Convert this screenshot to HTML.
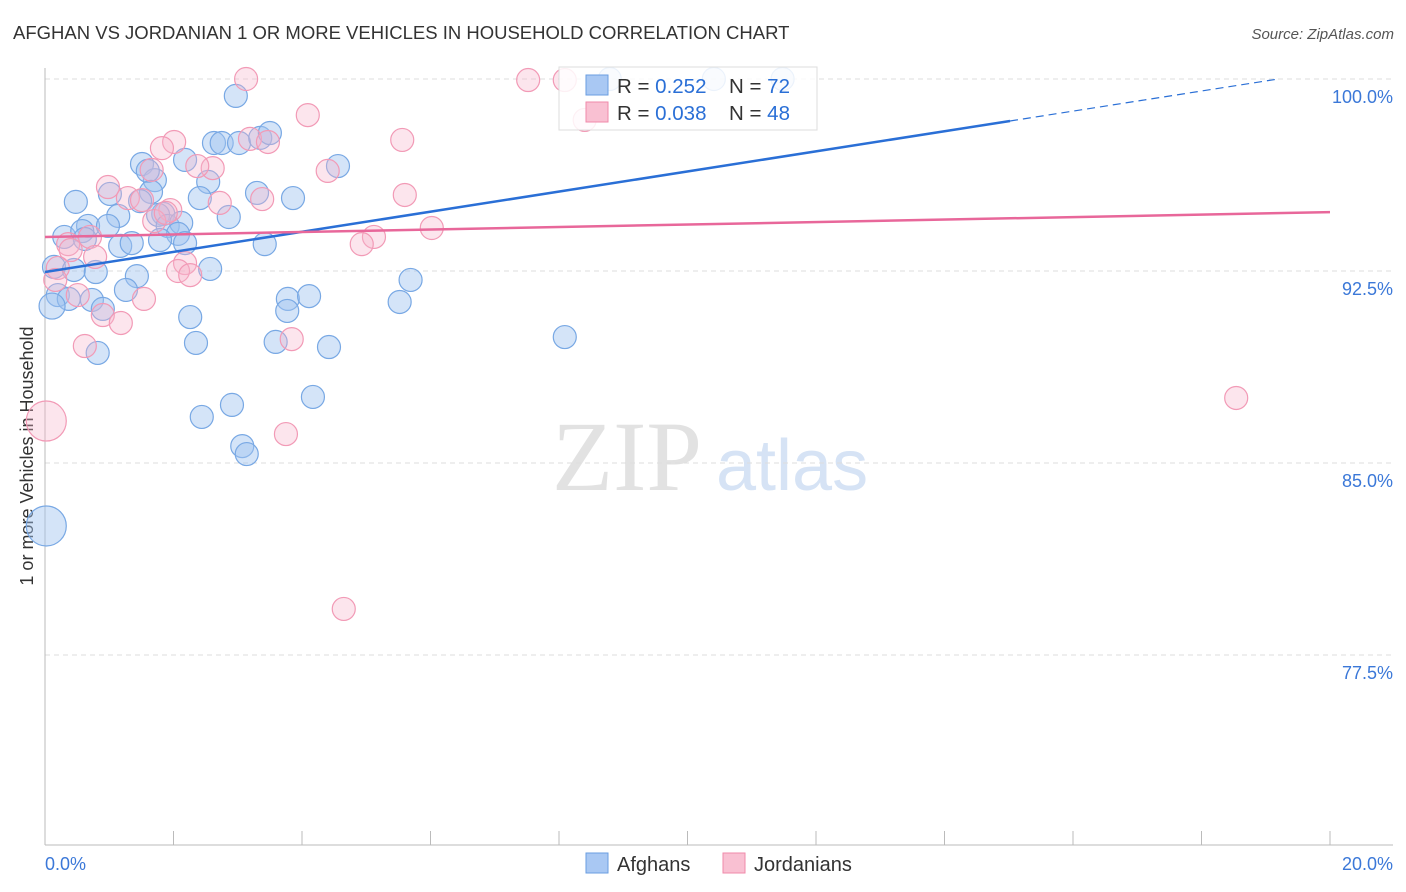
<!DOCTYPE html>
<html><head><meta charset="utf-8"><style>
body{margin:0;background:#fff;width:1406px;height:892px;overflow:hidden;font-family:"Liberation Sans",sans-serif}
svg{display:block}
</style></head><body>
<svg id="chart" width="1406" height="892">
<text x="13" y="39" font-size="18.5" fill="#333">AFGHAN VS JORDANIAN 1 OR MORE VEHICLES IN HOUSEHOLD CORRELATION CHART</text>
<text x="1394" y="39" font-size="15" fill="#555" font-style="italic" text-anchor="end">Source: ZipAtlas.com</text>
<text x="33" y="456" font-size="18" fill="#333" text-anchor="middle" transform="rotate(-90 33 456)">1 or more Vehicles in Household</text>
<g>
<text x="552" y="490" font-size="100" fill="#e2e2e2" font-family="Liberation Serif,serif">ZIP</text>
<text x="716" y="490" font-size="72" fill="#d6e3f5">atlas</text>
</g>
<g id="grid"></g><g id="axes"></g><g id="pts"></g><g id="lines"></g>
<g>
<rect x="559" y="67" width="258" height="63" fill="#fff" fill-opacity="0.85" stroke="#ddd"/>
<rect x="586" y="75" width="22" height="20" fill="#a9c8f3" stroke="#6a9ee0"/>
<rect x="586" y="102" width="22" height="20" fill="#f9c0d2" stroke="#f08aaa"/>
<text x="617" y="93" font-size="20.5" fill="#333">R = <tspan fill="#2a6fd6">0.252</tspan></text>
<text x="729" y="93" font-size="20.5" fill="#333">N = <tspan fill="#2a6fd6">72</tspan></text>
<text x="617" y="120" font-size="20.5" fill="#333">R = <tspan fill="#2a6fd6">0.038</tspan></text>
<text x="729" y="120" font-size="20.5" fill="#333">N = <tspan fill="#2a6fd6">48</tspan></text>
</g>
<g>
<rect x="586" y="853" width="22" height="20" fill="#a9c8f3" stroke="#6a9ee0"/>
<text x="617" y="871" font-size="20" fill="#333">Afghans</text>
<rect x="723" y="853" width="22" height="20" fill="#f9c0d2" stroke="#f08aaa"/>
<text x="754" y="871" font-size="20" fill="#333">Jordanians</text>
</g>
</svg>
<script>
const yTicks=[100,92.5,85,77.5];
const yTickLabels=["100.0%","92.5%","85.0%","77.5%"];
const xTickVals=[0,2,4,6,8,10,12,14,16,18,20];
const afghanX=[2.97,2.63,2.75,3.02,3.35,3.50,2.18,1.51,1.71,1.60,1.65,2.54,1.01,0.48,1.48,1.84,1.14,1.76,2.86,2.41,3.30,3.86,4.56,0.67,0.98,0.30,0.58,0.62,1.91,2.12,2.07,2.18,1.79,1.17,1.35,3.42,0.14,0.45,0.79,2.57,1.43,1.26,0.20,0.37,0.73,0.90,0.11,2.26,3.78,4.11,3.77,5.69,5.52,2.35,3.59,4.42,0.82,8.09,4.17,2.91,2.44,3.07,3.14,0.02,8.79,10.41,11.48];
const afghanY=[99.34,97.50,97.50,97.50,97.70,97.89,96.84,96.68,96.05,96.41,95.59,95.98,95.51,95.20,95.23,94.73,94.65,94.69,94.61,95.35,95.55,95.35,96.60,94.26,94.26,93.83,94.06,93.75,94.26,94.38,93.95,93.59,93.71,93.48,93.59,93.55,92.66,92.54,92.46,92.58,92.30,91.76,91.56,91.41,91.37,91.02,91.13,90.70,91.41,91.52,90.94,92.15,91.29,89.69,89.73,89.53,89.30,89.92,87.58,87.27,86.80,85.66,85.35,82.54,100.0,100.0,100.0];
const jordanX=[3.13,7.52,8.09,8.40,4.09,5.56,2.01,1.82,3.19,3.47,1.66,2.61,2.37,4.40,0.98,1.29,1.51,2.72,3.38,5.60,1.95,1.70,1.88,6.02,5.12,4.93,0.70,0.36,0.40,0.20,0.78,2.18,2.07,2.26,0.16,0.51,1.54,0.90,1.18,3.84,0.62,3.75,18.54,4.65,0.02];
const jordanY=[100.0,99.96,99.96,98.40,98.59,97.62,97.54,97.30,97.66,97.54,96.45,96.52,96.60,96.41,95.78,95.35,95.27,95.16,95.31,95.47,94.88,94.45,94.77,94.18,93.83,93.55,93.83,93.55,93.32,92.62,93.05,92.81,92.50,92.34,92.15,91.56,91.41,90.78,90.47,89.84,89.57,86.13,87.54,79.30,86.64];
const afghanTrend=[92.46,98.36];  // y at x=0 and x=15.02
const jordanTrend=[93.83,94.80];  // y at x=0 and x=20
const NS="http://www.w3.org/2000/svg";
const X=v=>45+v/20*1285;
const Y=v=>79+(100-v)/7.5*192;
function mk(tag,attrs,parent){const e=document.createElementNS(NS,tag);for(const k in attrs)e.setAttribute(k,attrs[k]);parent.appendChild(e);return e;}
const grid=document.getElementById('grid'),axes=document.getElementById('axes'),pts=document.getElementById('pts'),lines=document.getElementById('lines');
yTicks.forEach((t,i)=>{
 const l=mk('line',{x1:45,x2:1393,y1:Y(t),y2:Y(t),stroke:'#ddd','stroke-dasharray':'5,4'},grid);
 
 
 const tx=mk('text',{x:1393,y:Y(t)+24,'font-size':18,fill:'#3b78d8','text-anchor':'end'},axes);
 tx.textContent=yTickLabels[i];
 
 
});
const ya=mk('line',{x1:45,x2:45,y1:68,y2:845,stroke:'#bbb'},axes);


const xa=mk('line',{x1:45,x2:1393,y1:845,y2:845,stroke:'#bbb'},axes);


xTickVals.forEach(v=>{
 const t=mk('line',{x1:X(v),x2:X(v),y1:831,y2:845,stroke:'#bbb'},axes);
 
 
});
[[0,'0.0%','start',45],[20,'20.0%','end',1393]].forEach(a=>{
 const t=mk('text',{x:a[3],y:870,'font-size':18,fill:'#3b78d8','text-anchor':a[2]},axes);
 t.textContent=a[1];
 
 
});
function draw(xs,ys,fill,stroke,name){
 xs.forEach((x,i)=>{
  let r=11.5; if(x<0.05) r=20; else if(x<0.12) r=13;
  const c=mk('circle',{cx:X(x),cy:Y(ys[i]),r:r,fill:fill,stroke:stroke,'stroke-width':1.2},pts);
  
  
 });
}
draw(afghanX,afghanY,'rgba(160,196,240,0.45)','#78a8e4','afghan-point');
draw(jordanX,jordanY,'rgba(246,180,202,0.35)','#f29ab6','jordanian-point');
const slopeA=(afghanTrend[1]-afghanTrend[0])/15.02;
const b1=mk('line',{x1:X(0),y1:Y(afghanTrend[0]),x2:X(15.02),y2:Y(afghanTrend[1]),stroke:'#2a6fd6','stroke-width':2.5},lines);


const b2=mk('line',{x1:X(15.02),y1:Y(afghanTrend[1]),x2:X(19.2),y2:Y(afghanTrend[0]+slopeA*19.2),stroke:'#2a6fd6','stroke-width':1.2,'stroke-dasharray':'8,5'},lines);


const p1=mk('line',{x1:X(0),y1:Y(jordanTrend[0]),x2:X(20),y2:Y(jordanTrend[1]),stroke:'#e8679a','stroke-width':2.5},lines);


</script>
</body></html>
